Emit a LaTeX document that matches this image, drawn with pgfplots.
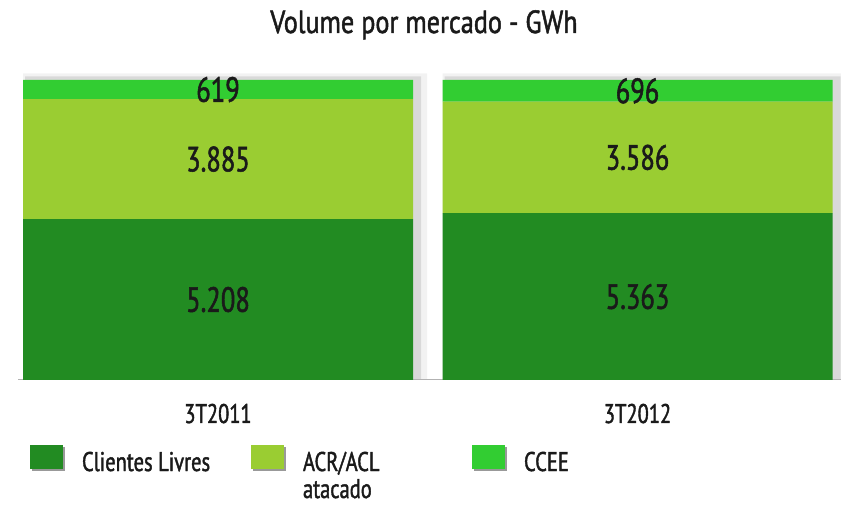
\documentclass[border=0pt]{standalone}
\usepackage{fontspec}
\setmainfont{PT Sans}[FakeStretch=0.76, FakeBold=1.5]
\newfontfamily\titlefont{PT Sans}[FakeStretch=0.82, FakeBold=1.5]
\usepackage{pgfplots}
\usepackage{pgfplotstable}
\pgfplotsset{compat=1.18}
\definecolor{cLivres}{HTML}{228B22}
\definecolor{cAcr}{HTML}{9ACD32}
\definecolor{cCcee}{HTML}{32CD32}
\definecolor{txt}{HTML}{1A1A1A}

% volumes in GWh
\pgfplotstableread{
x livres acr ccee
0 5208 3885 619
1 5363 3586 696
}\mercado

\pgfplotsset{
  base/.style={
    at={(18pt,125pt)}, anchor=south west,
    scale only axis, width=823pt, height=300pt,
    xmin=-0.4768, xmax=1.485, ymin=0, ymax=1,
    clip=false,
  },
  /pgf/number format/.cd, fixed, precision=0, 1000 sep={.}, assume math mode=true,
}

\begin{document}
\begin{tikzpicture}
\path[use as bounding box] (0,0) rectangle (841pt,505pt);

% soft shadow behind the bars
\begin{axis}[base, axis lines=none, ybar]
\addplot[draw=none, fill=black, fill opacity=0.05, bar width=404pt, bar shift=7pt] coordinates {(0,1.022) (1,1.022)};
\addplot[draw=none, fill=black, fill opacity=0.10, bar width=396pt, bar shift=5pt] coordinates {(0,1.012) (1,1.012)};
\end{axis}

\begin{axis}[base, ybar stacked, bar width=390pt,
  axis x line*=bottom, axis y line=none,
  x axis line style={draw=gray!60, line width=1pt, -},
  xtick={0,1}, xticklabels={3T2011,3T2012}, major tick length=0pt,
  xticklabel style={font=\fontsize{27}{30}\selectfont, text=txt, anchor=base, yshift=-43pt},
  title={Volume por mercado - GWh},
  title style={at={(axis description cs:0.4933,1)}, anchor=base, yshift=41pt,
    font=\titlefont\fontsize{32}{34}\selectfont, text=txt},
  legend columns=3,
  legend cell align=left,
  legend style={draw=none, fill=none, at={(0.01458,-0.2167)}, anchor=north west,
    font=\fontsize{27}{30}\selectfont, text=txt, inner sep=0pt, outer sep=0pt,
    nodes={inner sep=0pt}, cells={anchor=base west}, column sep=0pt,
    /tikz/every odd column/.append style={column sep=17pt}},
  legend image code/.code={
    \fill[black!40] (2pt,0pt) rectangle (35pt,24pt);
    \fill[#1] (0pt,2pt) rectangle (33pt,26pt);},
]
\addplot[draw=none, fill=cLivres] table[x=x, y expr=\thisrow{livres}/(\thisrow{livres}+\thisrow{acr}+\thisrow{ccee})] {\mercado};
\addlegendentry{\makebox[169pt][l]{Clientes Livres}}
\addplot[draw=none, fill=cAcr] table[x=x, y expr=\thisrow{acr}/(\thisrow{livres}+\thisrow{acr}+\thisrow{ccee})] {\mercado};
\addlegendentry{\parbox[t]{169pt}{\baselineskip=27pt ACR/ACL\\atacado}}
\addplot[draw=none, fill=cCcee] table[x=x, y expr=\thisrow{ccee}/(\thisrow{livres}+\thisrow{acr}+\thisrow{ccee})] {\mercado};
\addlegendentry{\makebox[169pt][l]{CCEE}}
\end{axis}

% value labels centred in each segment
\begin{axis}[base, axis lines=none,
  every node near coord/.append style={anchor=center, font=\fontsize{35}{37}\selectfont, text=txt}]
\addplot[draw=none, mark=none, nodes near coords, point meta=explicit]
  table[x=x, y expr=0.5*\thisrow{livres}/(\thisrow{livres}+\thisrow{acr}+\thisrow{ccee}), meta=livres] {\mercado};
\addplot[draw=none, mark=none, nodes near coords, point meta=explicit]
  table[x=x, y expr=(\thisrow{livres}+0.5*\thisrow{acr})/(\thisrow{livres}+\thisrow{acr}+\thisrow{ccee}), meta=acr] {\mercado};
\addplot[draw=none, mark=none, nodes near coords, point meta=explicit]
  table[x=x, y expr=(\thisrow{livres}+\thisrow{acr}+0.5*\thisrow{ccee})/(\thisrow{livres}+\thisrow{acr}+\thisrow{ccee}), meta=ccee] {\mercado};
\end{axis}
\end{tikzpicture}
\end{document}
